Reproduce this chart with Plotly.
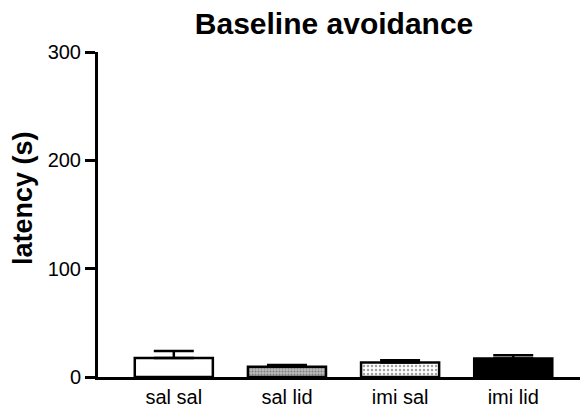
import plotly.graph_objects as go

categories = ["sal sal", "sal lid", "imi sal", "imi lid"]
means = [17.5, 9.5, 13.5, 17.0]
sem = [6.5, 1.5, 2.0, 3.0]
fills = ["white", "#bdbdbd", "white", "black"]
pattern_shapes = ["", ".", ".", ""]
pattern_fg = ["black", "#555555", "black", "black"]

fig = go.Figure()
fig.add_trace(go.Bar(
    x=categories, y=means, width=0.69,
    marker=dict(color=fills, line=dict(color="black", width=2.5),
                pattern=dict(shape=pattern_shapes, fgcolor=pattern_fg,
                             size=[3, 3, 4, 3], solidity=[0.3, 0.4, 0.3, 0.3])),
    error_y=dict(type="data", array=sem, arrayminus=[0]*4, symmetric=False,
                 color="black", thickness=2.5, width=20),
    showlegend=False,
))

font_family = "Arial, Liberation Sans, sans-serif"
fig.update_layout(
    width=584, height=414,
    margin=dict(l=98, r=4, t=52, b=37),
    paper_bgcolor="white", plot_bgcolor="white",
    font=dict(family=font_family, color="black", size=20),
    title=dict(text="<b>Baseline avoidance</b>", x=0.572, xanchor="center",
               xref="container", yref="container",
               y=1 - 23/414, yanchor="middle", font=dict(size=30, family=font_family)),
    xaxis=dict(range=[-0.67, 3.59], showline=True, linecolor="black", linewidth=3,
               ticks="", showgrid=False, zeroline=False, tickfont=dict(size=20)),
    yaxis=dict(range=[0, 300], tickvals=[0, 100, 200, 300], showline=True,
               linecolor="black", linewidth=3, ticks="outside", ticklen=10,
               tickwidth=2.5, tickcolor="black", showgrid=False, zeroline=False,
               tickfont=dict(size=20)),
)
fig.add_annotation(text="<b>latency (s)</b>", textangle=-90, showarrow=False,
                   xref="paper", yref="paper", x=(23 - 98) / 482, y=(377 - 198) / 325,
                   xanchor="center", yanchor="middle", font=dict(size=27))

fig.write_html("out.html")
